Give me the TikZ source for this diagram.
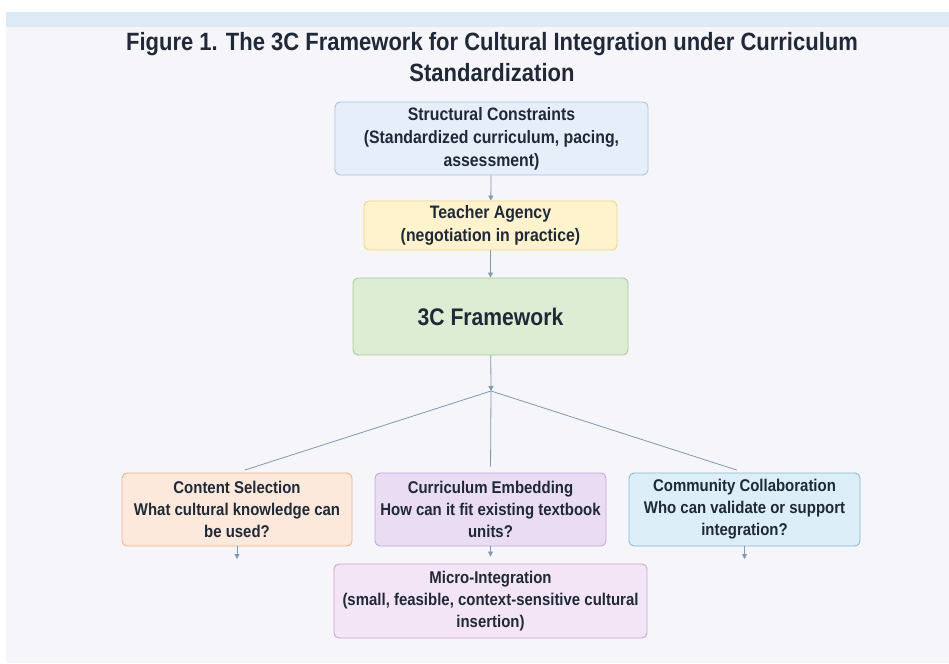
\documentclass[tikz,border=0pt]{standalone}
\usepackage{fontspec}
\setmainfont{Liberation Sans}[FakeStretch=0.88]
\usetikzlibrary{arrows.meta}
\definecolor{pageColor}{HTML}{F5F5FA}
\definecolor{stripColor}{HTML}{DDE9F5}
\definecolor{inkColor}{HTML}{1F2937}
\definecolor{edgeColor}{HTML}{7F9AB2}

\begin{document}
\begin{tikzpicture}[x=1pt,y=-1pt]

            \tikzstyle{baseBox} = [draw, rounded corners=5pt, line width=0.9pt, align=center, text=inkColor, font=\bfseries\fontsize{18}{23}\selectfont, inner sep=0pt];
            \tikzstyle{lowBox} = [baseBox, minimum width=231pt, minimum height=73pt, font=\bfseries\fontsize{17}{22}\selectfont];
            \tikzstyle{flowEdge} = [line width=0.8pt, edgeColor, -{Triangle[length=5pt,width=5pt]}];
            \tikzstyle{splitEdge} = [line width=0.8pt, edgeColor];

            \useasboundingbox (0,0) rectangle (949,663);
            \fill[white] (0,0) rectangle (949,663);
            \fill[pageColor] (6,27) rectangle (949,663);
            \fill[stripColor] (6,12) rectangle (949,27);

            \node[text=inkColor, align=center, font=\bfseries\fontsize{25}{31}\selectfont] (title) at (492,57)
                {Figure 1. The 3C Framework for Cultural Integration under Curriculum\\Standardization};

            \node[baseBox, draw={rgb,255:red,168;green,196;blue,224}, fill={rgb,255:red,230;green,239;blue,249}, minimum width=313pt, minimum height=73pt] (struct) at (491.5,138.5)
                {Structural Constraints\\(Standardized curriculum, pacing,\\assessment)};
            \node[baseBox, draw={rgb,255:red,240;green,214;blue,128}, fill={rgb,255:red,255;green,243;blue,205}, minimum width=253pt, minimum height=49pt] (teacher) at (490.5,225.5)
                {Teacher Agency\\(negotiation in practice)};
            \node[baseBox, draw={rgb,255:red,170;green,204;blue,152}, fill={rgb,255:red,220;green,237;blue,212}, minimum width=275pt, minimum height=77pt, font=\bfseries\fontsize{24}{28}\selectfont] (frame) at (490.5,316.5)
                {3C Framework};

            \coordinate (junction) at (491,391);

            \node[lowBox, draw={rgb,255:red,232;green,180;blue,140}, fill={rgb,255:red,253;green,233;blue,220}, minimum width=230pt] (content) at (237,509.5)
                {Content Selection\\What cultural knowledge can\\be used?};
            \node[lowBox, draw={rgb,255:red,198;green,166;blue,218}, fill={rgb,255:red,233;green,220;blue,243}] (embed) at (490.5,509.5)
                {Curriculum Embedding\\How can it fit existing textbook\\units?};
            \node[lowBox, draw={rgb,255:red,140;green,186;blue,210}, fill={rgb,255:red,220;green,238;blue,247}] (community) at (744.5,509.5)
                {Community Collaboration\\Who can validate or support\\integration?};
            \node[baseBox, draw={rgb,255:red,204;green,164;blue,212}, fill={rgb,255:red,243;green,229;blue,245}, minimum width=313pt, minimum height=74pt, font=\bfseries\fontsize{17}{22}\selectfont] (micro) at (490.5,601)
                {Micro-Integration\\(small, feasible, context-sensitive cultural\\insertion)};

            \coordinate (contentOut) at (237,559);
            \coordinate (communityOut) at (744.5,559);

            \draw[flowEdge] (struct) -- (teacher);
            \draw[flowEdge] (teacher) -- (frame);
            \draw[flowEdge] (frame) -- (junction);

            \draw[splitEdge, shorten >=8pt] (junction) -- (content.north);
            \draw[splitEdge, shorten >=6pt] (junction) -- (embed.north);
            \draw[splitEdge, shorten >=8pt] (junction) -- (community.north);

            \draw[flowEdge] (content) -- (contentOut);
            \draw[flowEdge, shorten >=7pt] (embed) -- (micro);
            \draw[flowEdge] (community) -- (communityOut);
          \end{tikzpicture}
\end{document}
